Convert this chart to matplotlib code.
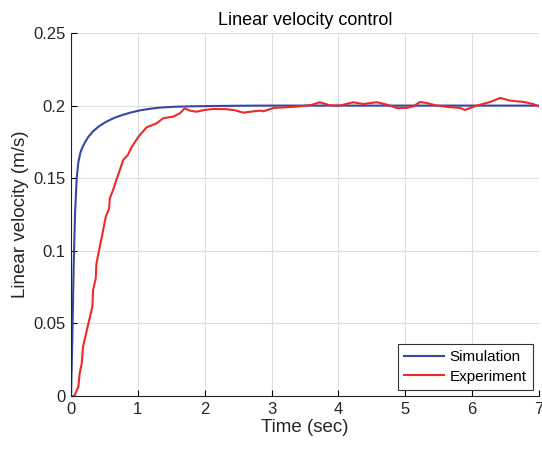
import matplotlib
matplotlib.use('Agg')
import matplotlib.pyplot as plt

plt.rcParams['font.family'] = ['Liberation Sans', 'DejaVu Sans']

# Simulation response
t_sim = [0, 0.02, 0.04, 0.06, 0.085, 0.11, 0.14, 0.17, 0.21, 0.26, 0.33, 0.42, 0.52,
         0.64, 0.76, 0.9, 1.03, 1.18, 1.33, 1.55, 1.8, 2.1, 2.5, 3.0, 4.0, 5.0, 6.0, 7.0]
v_sim = [0, 0.04, 0.09, 0.125, 0.15, 0.161, 0.1675, 0.1712, 0.1748, 0.1785, 0.1823,
         0.1858, 0.1887, 0.1914, 0.1934, 0.1953, 0.1967, 0.1978, 0.1986, 0.1992,
         0.1995, 0.1997, 0.1999, 0.2, 0.2, 0.2, 0.2, 0.2]

# Experiment response
t_exp = [0, 0.05, 0.11, 0.13, 0.16, 0.18, 0.22, 0.26, 0.32, 0.33, 0.37, 0.38, 0.42,
         0.48, 0.52, 0.57, 0.58, 0.63, 0.68, 0.73, 0.78, 0.85, 0.91, 1.01, 1.13,
         1.28, 1.38, 1.53, 1.63, 1.70, 1.78, 1.88, 2.0, 2.13, 2.33, 2.45, 2.58,
         2.68, 2.83, 2.88, 3.03, 3.2, 3.43, 3.6, 3.72, 3.87, 4.02, 4.22, 4.37,
         4.57, 4.72, 4.87, 5.02, 5.12, 5.22, 5.32, 5.47, 5.67, 5.82, 5.89, 6.07,
         6.27, 6.42, 6.57, 6.77, 6.91, 7.0]
v_exp = [0, 0, 0.0064, 0.0156, 0.0225, 0.034, 0.042, 0.05, 0.0615, 0.073, 0.081, 0.091,
         0.1005, 0.114, 0.1235, 0.129, 0.136, 0.142, 0.149, 0.1556, 0.1625, 0.166,
         0.1717, 0.1786, 0.185, 0.1878, 0.1913, 0.1924, 0.1947, 0.1981, 0.1965,
         0.1958, 0.197, 0.1977, 0.1975, 0.1968, 0.1951, 0.1958, 0.1965, 0.1961,
         0.1984, 0.1988, 0.1995, 0.2005, 0.2023, 0.2002, 0.2, 0.2023, 0.2011,
         0.2023, 0.2007, 0.1984, 0.1984, 0.1995, 0.2025, 0.2018, 0.2, 0.1989,
         0.1984, 0.197, 0.2, 0.2025, 0.2053, 0.2034, 0.2025, 0.2011, 0.1995]

fig = plt.figure(figsize=(5.42, 4.5), dpi=100)
ax = fig.add_axes([0.131, 0.12, 0.8635, 0.8067])

ax.plot(t_sim, v_sim, color='#3547A6', linewidth=1.5, label='Simulation')
ax.plot(t_exp, v_exp, color='#F02828', linewidth=1.5, label='Experiment')

ax.set_xlim(0, 7)
ax.set_ylim(0, 0.25)
ax.set_xticks(range(0, 8))
ax.set_yticks([0, 0.05, 0.1, 0.15, 0.2, 0.25])
ax.set_yticklabels(['0', '0.05', '0.1', '0.15', '0.2', '0.25'])
ax.tick_params(direction='in', labelsize=12, length=4, width=0.8,
               labelcolor='#262626', pad=4)
ax.grid(True, color='#dddddd', linewidth=0.8)
ax.set_axisbelow(True)
for side in ['top', 'right']:
    ax.spines[side].set_visible(False)
for side in ['left', 'bottom']:
    ax.spines[side].set_linewidth(0.8)
    ax.spines[side].set_color('#262626')

ax.set_xlabel('Time (sec)', fontsize=13.5, labelpad=2, color='#262626')
ax.set_ylabel('Linear velocity (m/s)', fontsize=13.5, labelpad=3, color='#262626')
ax.set_title('Linear velocity control', fontsize=13, pad=6)

leg = ax.legend(loc='lower right', fontsize=11, fancybox=False, framealpha=1,
                edgecolor='#333333', borderaxespad=0.4, handlelength=2.6,
                handletextpad=0.4, borderpad=0.4, labelspacing=0.35)
leg.get_frame().set_linewidth(0.8)

plt.savefig('out.png', dpi=100)
